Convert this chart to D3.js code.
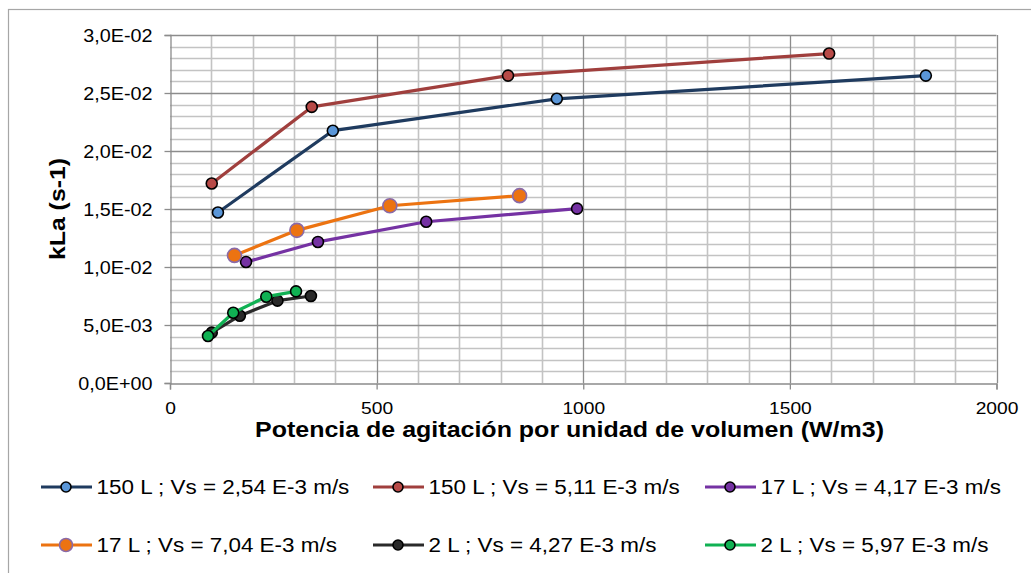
<!DOCTYPE html>
<html>
<head>
<meta charset="utf-8">
<script src="https://d3js.org/d3.v7.min.js"></script>
<style>
  html, body { margin: 0; padding: 0; background: #fff; }
  svg { display: block; }
  text { font-family: "Liberation Sans", Arial, sans-serif; fill: #000; }
</style>
</head>
<body>
<svg id="chart" width="1031" height="573"></svg>
<script>
// Series labels, in legend order
const seriesNames = [
  "150 L ; Vs = 2,54 E-3 m/s",
  "150 L ; Vs = 5,11 E-3 m/s",
  "17 L ; Vs = 4,17 E-3 m/s",
  "17 L ; Vs = 7,04 E-3 m/s",
  "2 L ; Vs = 4,27 E-3 m/s",
  "2 L ; Vs = 5,97 E-3 m/s"
];

// Power per unit volume (W/m3) and kLa (s-1) for each run
const p150a = [116, 394, 936, 1829];
const k150a = [0.0147, 0.02175, 0.0245, 0.0265];
const p150b = [101, 343, 818, 1595];
const k150b = [0.0172, 0.0238, 0.0265, 0.0284];
const p17a = [184, 358, 620, 985];
const k17a = [0.01043, 0.01216, 0.0139, 0.01503];
const p17b = [156, 307, 532, 846];
const k17b = [0.0110, 0.01316, 0.01528, 0.01615];
const p2a = [101, 169, 260, 341];
const k2a = [0.00434, 0.0058, 0.0071, 0.0075];
const p2b = [92, 153, 233, 305];
const k2b = [0.00405, 0.00606, 0.00744, 0.0079];

// Axis ticks
const xTicks = [0, 500, 1000, 1500, 2000];
const yTicks = [0, 0.005, 0.01, 0.015, 0.02, 0.025, 0.03];

const xTitle = "Potencia de agitación por unidad de volumen (W/m3)";
const yTitle = "kLa (s-1)";

// Styles per series
const styles = [
  { line: "#1f3b5f", fill: "#5a96d8", stroke: "#000", r: 5.5 },
  { line: "#a03f3d", fill: "#b84a47", stroke: "#000", r: 5.5 },
  { line: "#7532a3", fill: "#7532a3", stroke: "#000", r: 5.5 },
  { line: "#ec7311", fill: "#ec7311", stroke: "#8a6aa8", r: 7 },
  { line: "#2a2a2a", fill: "#2a2a2a", stroke: "#000", r: 5.5 },
  { line: "#10b153", fill: "#10b153", stroke: "#000", r: 5.5 }
];

const series = [
  { name: seriesNames[0], xs: p150a, ys: k150a },
  { name: seriesNames[1], xs: p150b, ys: k150b },
  { name: seriesNames[2], xs: p17a, ys: k17a },
  { name: seriesNames[3], xs: p17b, ys: k17b },
  { name: seriesNames[4], xs: p2a, ys: k2a },
  { name: seriesNames[5], xs: p2b, ys: k2b }
].map((s, i) => ({ ...s, style: styles[i], pts: s.xs.map((x, j) => [x, s.ys[j]]) }));

const svg = d3.select("#chart");
const plot = { left: 170, right: 996.5, top: 35, bottom: 383 };

const x = d3.scaleLinear().domain([0, 2000]).range([plot.left, plot.right]);
const y = d3.scaleLinear().domain([0, 0.03]).range([plot.bottom, plot.top]);

// Stretch a text element horizontally by a factor (or to an exact width)
function stretch(sel, factor, width) {
  sel.each(function () {
    const w = this.getComputedTextLength();
    const target = width != null ? width : w * factor;
    d3.select(this).attr("textLength", target).attr("lengthAdjust", "spacingAndGlyphs");
  });
}

// "3,0E-02" style scientific format
function sci(v) {
  if (Math.abs(v) < 1e-12) return "0,0E+00";
  let e = Math.floor(Math.log10(v) + 1e-9);
  let m = v / Math.pow(10, e);
  const sign = e < 0 ? "-" : "+";
  const ae = Math.abs(e);
  return m.toFixed(1).replace(".", ",") + "E" + sign + (ae < 10 ? "0" : "") + ae;
}

// Outer chart frame
svg.append("rect")
  .attr("x", 8.5).attr("y", 9.5)
  .attr("width", 1100).attr("height", 700)
  .attr("fill", "none").attr("stroke", "#a6a6a6").attr("stroke-width", 1.2);

// Minor gridlines
const grid = svg.append("g");
grid.selectAll("line.vmin")
  .data(d3.range(100, 2000, 100).filter(v => v % 500 !== 0))
  .join("line")
  .attr("x1", d => Math.round(x(d)) + 0.5).attr("x2", d => Math.round(x(d)) + 0.5)
  .attr("y1", plot.top).attr("y2", plot.bottom)
  .attr("stroke", "#c3c3c3").attr("stroke-width", 1.6);
grid.selectAll("line.hmin")
  .data(d3.range(1, 30).filter(v => v % 5 !== 0).map(v => v / 1000))
  .join("line")
  .attr("x1", plot.left).attr("x2", plot.right)
  .attr("y1", d => Math.round(y(d)) + 0.5).attr("y2", d => Math.round(y(d)) + 0.5)
  .attr("stroke", "#c3c3c3").attr("stroke-width", 1.6);

// Major gridlines
grid.selectAll("line.vmaj")
  .data(xTicks.slice(1))
  .join("line")
  .attr("x1", d => Math.round(x(d)) + 0.5).attr("x2", d => Math.round(x(d)) + 0.5)
  .attr("y1", plot.top).attr("y2", plot.bottom)
  .attr("stroke", "#8c8c8c").attr("stroke-width", 1.3);
grid.selectAll("line.hmaj")
  .data(yTicks.slice(1))
  .join("line")
  .attr("x1", plot.left).attr("x2", plot.right)
  .attr("y1", d => Math.round(y(d)) + 0.5).attr("y2", d => Math.round(y(d)) + 0.5)
  .attr("stroke", "#8c8c8c").attr("stroke-width", 1.3);

// Axes
const yAxis = svg.append("g")
  .attr("transform", `translate(${plot.left + 0.5},0)`)
  .call(d3.axisLeft(y).tickValues(yTicks).tickSize(6).tickPadding(12).tickFormat(sci));
const xAxis = svg.append("g")
  .attr("transform", `translate(0,${plot.bottom + 0.5})`)
  .call(d3.axisBottom(x).tickValues(xTicks).tickSize(6).tickPadding(10).tickFormat(d3.format("d")));

[yAxis, xAxis].forEach(a => {
  a.select(".domain").attr("stroke", "#8c8c8c").attr("stroke-width", 1.3);
  a.selectAll(".tick line").attr("stroke", "#8c8c8c").attr("stroke-width", 1.3);
  a.selectAll("text").attr("font-family", "Liberation Sans, Arial, sans-serif").attr("fill", "#000");
});
yAxis.selectAll(".tick text").attr("font-size", 17.5).attr("dy", null).attr("y", 6.5).attr("x", -18);
xAxis.selectAll(".tick text").attr("font-size", 17).attr("dy", null).attr("y", 30);
stretch(yAxis.selectAll(".tick text"), 1.13);
stretch(xAxis.selectAll(".tick text"), 1.13);

// Axis titles
svg.append("text")
  .attr("x", 569.5).attr("y", 437)
  .attr("text-anchor", "middle")
  .attr("font-size", 21.5).attr("font-weight", "bold")
  .text(xTitle)
  .call(s => stretch(s, null, 629));

svg.append("text")
  .attr("transform", "translate(65,209) rotate(-90)")
  .attr("text-anchor", "middle")
  .attr("font-size", 22).attr("font-weight", "bold")
  .text(yTitle)
  .call(s => stretch(s, null, 102));

// Series lines and markers
const line = d3.line().x(d => x(d[0])).y(d => y(d[1]));
const marks = svg.append("g");
series.forEach(s => {
  const g = marks.append("g");
  g.append("path")
    .attr("d", line(s.pts))
    .attr("fill", "none")
    .attr("stroke", s.style.line)
    .attr("stroke-width", 3.2)
    .attr("stroke-linejoin", "round");
  g.selectAll("circle")
    .data(s.pts)
    .join("circle")
    .attr("cx", d => x(d[0])).attr("cy", d => y(d[1]))
    .attr("r", s.style.r)
    .attr("fill", s.style.fill)
    .attr("stroke", s.style.stroke)
    .attr("stroke-width", 1.6);
});

// Legend
const colX = [41, 373, 705];
const rowY = [487, 545];
const legend = svg.append("g");
series.forEach((s, i) => {
  const lx = colX[i % 3], ly = rowY[Math.floor(i / 3)];
  const g = legend.append("g");
  g.append("line")
    .attr("x1", lx).attr("x2", lx + 51)
    .attr("y1", ly).attr("y2", ly)
    .attr("stroke", s.style.line).attr("stroke-width", 3.2);
  g.append("circle")
    .attr("cx", lx + 25).attr("cy", ly)
    .attr("r", s.style.r - 0.5)
    .attr("fill", s.style.fill)
    .attr("stroke", s.style.stroke).attr("stroke-width", 1.6);
  g.append("text")
    .attr("x", lx + 55.5).attr("y", ly + 7)
    .attr("font-size", 19.5)
    .text(s.name)
    .call(t => stretch(t, 1.15));
});
</script>
</body>
</html>
